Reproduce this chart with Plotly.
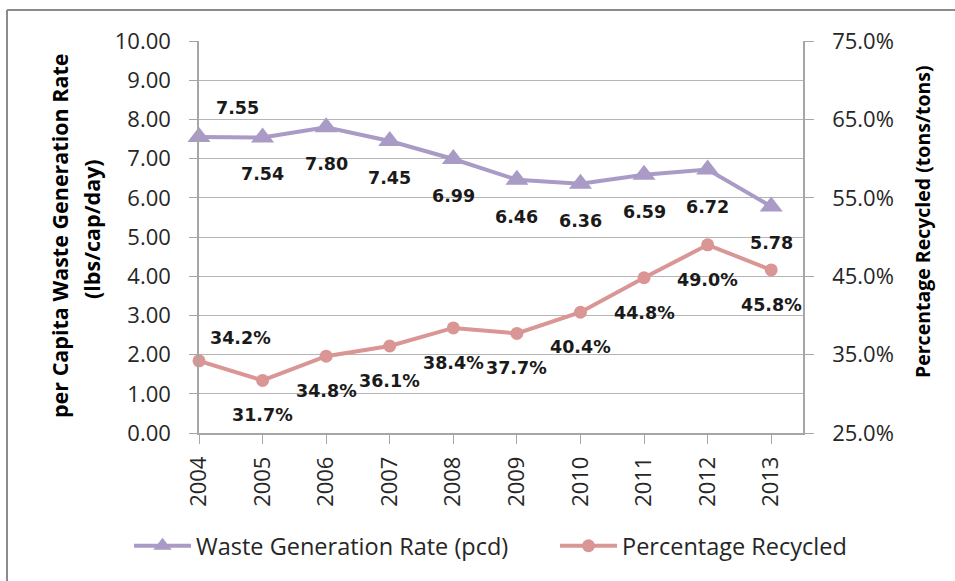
import plotly.graph_objects as go

years = [2004, 2005, 2006, 2007, 2008, 2009, 2010, 2011, 2012, 2013]
waste_rate = [7.55, 7.54, 7.80, 7.45, 6.99, 6.46, 6.36, 6.59, 6.72, 5.78]
pct_recycled = [34.2, 31.7, 34.8, 36.1, 38.4, 37.7, 40.4, 44.8, 49.0, 45.8]

PURPLE = "#A99AC6"
RED = "#D99694"
GRID = "#B5B5B5"
AXIS = "#A6A6A6"
FONT = "Open Sans"

# plot area in pixels
L, R, T, B = 199, 803, 41, 433
W, H = 955, 581
pw, ph = R - L, B - T

def px_x(x):
    return (x - L) / pw

def px_y(y):
    return (B - y) / ph

fig = go.Figure()
fig.add_trace(go.Scatter(
    x=years, y=waste_rate, name="Waste Generation Rate (pcd)",
    mode="lines+markers", line=dict(color=PURPLE, width=4),
    marker=dict(symbol="triangle-up", size=20, color=PURPLE),
    cliponaxis=False, yaxis="y", legend="legend"))
fig.add_trace(go.Scatter(
    x=years, y=pct_recycled, name="Percentage Recycled",
    mode="lines+markers", line=dict(color=RED, width=4),
    marker=dict(symbol="circle", size=13, color=RED),
    cliponaxis=False, yaxis="y2", legend="legend2"))

ann = []
lab_font = dict(family="DejaVu Sans", size=17.5, color="#1a1a1a")
for i, (yr, v) in enumerate(zip(years, waste_rate)):
    if i == 0:
        xs, ys = 38, 29
    else:
        xs, ys = 0, -37
    ann.append(dict(x=yr, y=v, xref="x", yref="y", text=f"<b>{v:.2f}</b>",
                    showarrow=False, xshift=xs, yshift=ys, font=lab_font))
for i, (yr, v) in enumerate(zip(years, pct_recycled)):
    if i == 0:
        xs, ys = 41, 23
    else:
        xs, ys = 0, -35
    ann.append(dict(x=yr, y=v, xref="x", yref="y2", text=f"<b>{v:.1f}%</b>",
                    showarrow=False, xshift=xs, yshift=ys, font=lab_font))

ann.append(dict(xref="paper", yref="paper", x=px_x(59), y=px_y(236),
                text="<b>per Capita Waste Generation Rate</b>", textangle=-90,
                showarrow=False, font=dict(family=FONT, size=21.5, color="#000"),
                xanchor="center", yanchor="middle"))
ann.append(dict(xref="paper", yref="paper", x=px_x(91), y=px_y(229),
                text="<b>(lbs/cap/day)</b>", textangle=-90,
                showarrow=False, font=dict(family=FONT, size=21.5, color="#000"),
                xanchor="center", yanchor="middle"))
ann.append(dict(xref="paper", yref="paper", x=px_x(922), y=px_y(222),
                text="<b>Percentage Recycled (tons/tons)</b>", textangle=-90,
                showarrow=False, font=dict(family=FONT, size=19.5, color="#000"),
                xanchor="center", yanchor="middle"))

tick_font = dict(family=FONT, size=22, color="#262626")
leg_font = dict(family=FONT, size=23.5, color="#262626")

fig.update_layout(
    width=W, height=H,
    margin=dict(l=L, r=W - R, t=T, b=H - B, autoexpand=False),
    paper_bgcolor="white", plot_bgcolor="white",
    showlegend=True,
    legend=dict(orientation="h", x=px_x(129), xanchor="left",
                y=px_y(546), yanchor="middle", font=leg_font, itemwidth=57,
                bgcolor="rgba(0,0,0,0)"),
    legend2=dict(orientation="h", x=px_x(555), xanchor="left",
                 y=px_y(546), yanchor="middle", font=leg_font, itemwidth=57,
                 bgcolor="rgba(0,0,0,0)"),
    xaxis=dict(range=[2004, 2013.5], tickvals=years, ticktext=[str(y) for y in years],
               tickangle=-90, ticks="outside", ticklen=9, tickcolor=AXIS,
               showline=True, linecolor=AXIS, linewidth=1.5, showgrid=False,
               zeroline=False, tickfont=tick_font, ticklabelstandoff=4),
    yaxis=dict(range=[0, 10], dtick=1, tickformat=".2f", ticks="outside",
               ticklen=8, tickcolor=AXIS, showline=True, linecolor=AXIS,
               linewidth=1.5, showgrid=True, gridcolor=GRID, gridwidth=1.2,
               zeroline=False, tickfont=tick_font, ticklabelstandoff=14),
    yaxis2=dict(range=[25, 75], tick0=25, dtick=10, tickformat=".1f", ticksuffix="%",
                overlaying="y", side="right", ticks="outside", ticklen=9,
                tickcolor=AXIS, showline=True, linecolor=AXIS, linewidth=1.5,
                showgrid=False, zeroline=False, tickfont=tick_font,
                ticklabelstandoff=14),
    annotations=ann,
    shapes=[
        dict(type="line", xref="paper", yref="paper", x0=px_x(7), x1=px_x(7),
             y0=px_y(10), y1=px_y(600), line=dict(color="#8C8C8C", width=2)),
        dict(type="line", xref="paper", yref="paper", x0=px_x(7), x1=px_x(970),
             y0=px_y(10), y1=px_y(10), line=dict(color="#8C8C8C", width=2)),
    ],
)

fig.write_html("out.html", config={"displayModeBar": False},
               post_script="document.body.style.margin='0';document.body.style.overflow='hidden';")
